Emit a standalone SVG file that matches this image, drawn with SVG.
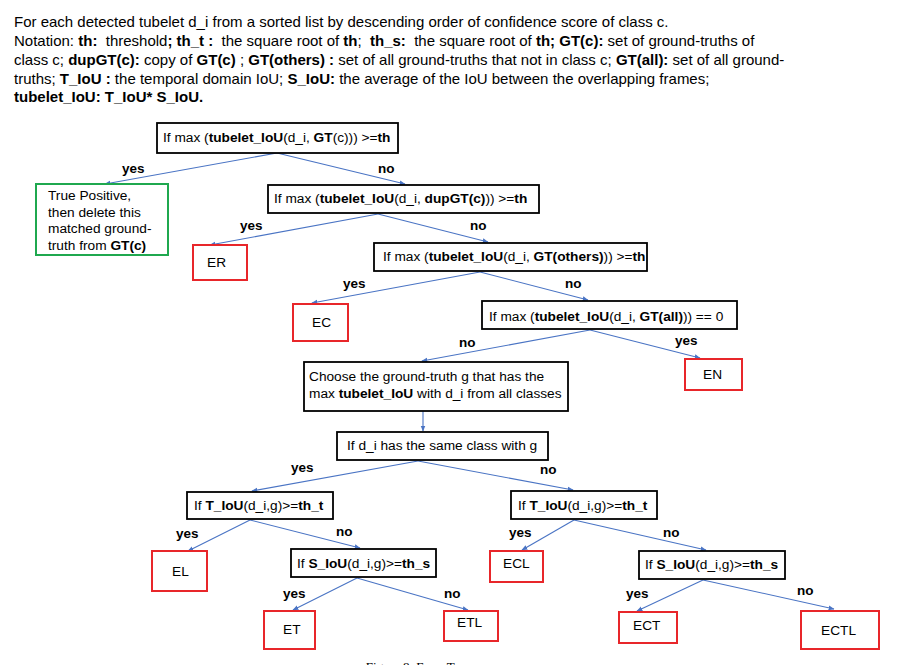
<svg xmlns="http://www.w3.org/2000/svg" width="897" height="665" viewBox="0 0 897 665">
<style>
text{font-family:"Liberation Sans",Arial,sans-serif;fill:#000;}
.hd{font-size:15px;}
.nt{font-size:13.7px;}
.lb{font-size:13.5px;font-weight:bold;}
.b{font-weight:bold;}
.box{fill:#fff;stroke:#000;stroke-width:1.8;}
.red{fill:#fff;stroke:#e8262a;stroke-width:2;}
.grn{fill:#fff;stroke:#1fa84f;stroke-width:2;}
.cn{fill:none;stroke:#4a74c4;stroke-width:1.1;marker-end:url(#ah);}
.cap{font-family:"Liberation Serif","Times New Roman",serif;font-size:13px;}
</style>
<defs>
<marker id="ah" viewBox="0 0 10 10" refX="9" refY="5" markerWidth="6" markerHeight="6" markerUnits="userSpaceOnUse" orient="auto">
<path d="M0,1 L10,5 L0,9 z" fill="#4a74c4"/>
</marker>
</defs>
<rect width="897" height="665" fill="#fff"/>

<g id="header" class="hd">
<text x="14" y="27" xml:space="preserve">For each detected tubelet d_i from a sorted list by descending order of confidence score of class c.</text>
<text x="14" y="46" xml:space="preserve">Notation: <tspan class="b">th:</tspan>  threshold<tspan class="b">; th_t :</tspan>  the square root of <tspan class="b">th</tspan>;  <tspan class="b">th_s:</tspan>  the square root of <tspan class="b">th; GT(c):</tspan> set of ground-truths of</text>
<text x="14" y="65" xml:space="preserve">class c; <tspan class="b">dupGT(c):</tspan> copy of <tspan class="b">GT(c)</tspan> ; <tspan class="b">GT(others) :</tspan> set of all ground-truths that not in class c; <tspan class="b">GT(all):</tspan> set of all ground-</text>
<text x="14" y="83.5" xml:space="preserve">truths; <tspan class="b">T_IoU :</tspan> the temporal domain IoU; <tspan class="b">S_IoU:</tspan> the average of the IoU between the overlapping frames;</text>
<text x="14" y="102" class="b" xml:space="preserve">tubelet_IoU: T_IoU* S_IoU.</text>
</g>

<g id="connectors">
<line class="cn" x1="277" y1="153" x2="105" y2="184"/>
<line class="cn" x1="277" y1="153" x2="405" y2="184"/>
<line class="cn" x1="378" y1="214" x2="210" y2="245"/>
<line class="cn" x1="378" y1="214" x2="488" y2="242"/>
<line class="cn" x1="480" y1="272" x2="312" y2="303"/>
<line class="cn" x1="480" y1="272" x2="588" y2="300"/>
<line class="cn" x1="590" y1="330" x2="422" y2="361"/>
<line class="cn" x1="590" y1="330" x2="700" y2="358"/>
<line class="cn" x1="423" y1="411" x2="423" y2="431"/>
<line class="cn" x1="418" y1="461" x2="252" y2="491"/>
<line class="cn" x1="418" y1="461" x2="573" y2="490"/>
<line class="cn" x1="250" y1="520" x2="188" y2="551"/>
<line class="cn" x1="250" y1="520" x2="360" y2="548"/>
<line class="cn" x1="357" y1="578" x2="293" y2="610"/>
<line class="cn" x1="357" y1="578" x2="468" y2="610"/>
<line class="cn" x1="574" y1="520" x2="522" y2="550"/>
<line class="cn" x1="574" y1="520" x2="706" y2="550"/>
<line class="cn" x1="703" y1="580" x2="637" y2="611"/>
<line class="cn" x1="703" y1="580" x2="834" y2="609"/>
</g>

<g id="edge-labels" class="lb">
<text x="122" y="173">yes</text>
<text x="378" y="173">no</text>
<text x="240" y="230">yes</text>
<text x="470" y="230">no</text>
<text x="343" y="288">yes</text>
<text x="565" y="288">no</text>
<text x="459" y="347">no</text>
<text x="675" y="345">yes</text>
<text x="291" y="472">yes</text>
<text x="540" y="474">no</text>
<text x="176" y="538">yes</text>
<text x="336" y="536">no</text>
<text x="283" y="598">yes</text>
<text x="444" y="598">no</text>
<text x="509" y="537">yes</text>
<text x="663" y="537">no</text>
<text x="626" y="598">yes</text>
<text x="797" y="595">no</text>
</g>

<g id="n-root">
<rect class="box" x="157" y="123" width="241" height="30"/>
<text class="nt" x="163" y="142">If max (<tspan class="b">tubelet_IoU</tspan>(d_i, <tspan class="b">GT</tspan>(c))) &gt;=<tspan class="b">th</tspan></text>
</g>
<g id="n-tp">
<rect class="grn" x="36" y="184" width="132" height="71"/>
<text class="nt" x="48" y="200">True Positive,</text>
<text class="nt" x="48" y="216.5">then delete this</text>
<text class="nt" x="48" y="233">matched ground-</text>
<text class="nt" x="48" y="249.5">truth from <tspan class="b">GT(c)</tspan></text>
</g>
<g id="n-dup">
<rect class="box" x="268" y="185" width="271" height="28"/>
<text class="nt" x="274" y="203">If max (<tspan class="b">tubelet_IoU</tspan>(d_i, <tspan class="b">dupGT(c)</tspan>)) &gt;=<tspan class="b">th</tspan></text>
</g>
<g id="n-er">
<rect class="red" x="193" y="245" width="54" height="35"/>
<text class="nt" x="207" y="267">ER</text>
</g>
<g id="n-others">
<rect class="box" x="374" y="243" width="273" height="28"/>
<text class="nt" x="383" y="261">If max (<tspan class="b">tubelet_IoU</tspan>(d_i, <tspan class="b">GT(others)</tspan>)) &gt;=<tspan class="b">th</tspan></text>
</g>
<g id="n-ec">
<rect class="red" x="293" y="304" width="55" height="37"/>
<text class="nt" x="312" y="327">EC</text>
</g>
<g id="n-all">
<rect class="box" x="482" y="301" width="255" height="28"/>
<text class="nt" x="489" y="321">If max (<tspan class="b">tubelet_IoU</tspan>(d_i, <tspan class="b">GT(all)</tspan>)) == 0</text>
</g>
<g id="n-en">
<rect class="red" x="685" y="359" width="57" height="31"/>
<text class="nt" x="703" y="379">EN</text>
</g>
<g id="n-choose">
<rect class="box" x="304" y="362" width="264" height="49"/>
<text class="nt" x="309" y="381">Choose the ground-truth g that has the</text>
<text class="nt" x="309" y="398">max <tspan class="b">tubelet_IoU</tspan> with d_i from all classes</text>
</g>
<g id="n-same">
<rect class="box" x="337" y="432" width="211" height="28"/>
<text class="nt" x="347" y="450">If d_i has the same class with g</text>
</g>
<g id="n-tiou-l">
<rect class="box" x="187" y="492" width="146" height="27"/>
<text class="nt" x="194" y="510">If <tspan class="b">T_IoU</tspan>(d_i,g)&gt;=<tspan class="b">th_t</tspan></text>
</g>
<g id="n-el">
<rect class="red" x="152" y="551" width="55" height="40"/>
<text class="nt" x="172" y="576">EL</text>
</g>
<g id="n-siou-l">
<rect class="box" x="291" y="549" width="145" height="28"/>
<text class="nt" x="297" y="568">If <tspan class="b">S_IoU</tspan>(d_i,g)&gt;=<tspan class="b">th_s</tspan></text>
</g>
<g id="n-et">
<rect class="red" x="264" y="611" width="51" height="38"/>
<text class="nt" x="283" y="634">ET</text>
</g>
<g id="n-etl">
<rect class="red" x="444" y="611" width="54" height="30"/>
<text class="nt" x="457" y="627">ETL</text>
</g>
<g id="n-tiou-r">
<rect class="box" x="511" y="491" width="146" height="28"/>
<text class="nt" x="518" y="510">If <tspan class="b">T_IoU</tspan>(d_i,g)&gt;=<tspan class="b">th_t</tspan></text>
</g>
<g id="n-ecl">
<rect class="red" x="490" y="551" width="53" height="31"/>
<text class="nt" x="503" y="568">ECL</text>
</g>
<g id="n-siou-r">
<rect class="box" x="639" y="551" width="146" height="28"/>
<text class="nt" x="645" y="569">If <tspan class="b">S_IoU</tspan>(d_i,g)&gt;=<tspan class="b">th_s</tspan></text>
</g>
<g id="n-ect">
<rect class="red" x="619" y="612" width="58" height="31"/>
<text class="nt" x="633" y="630">ECT</text>
</g>
<g id="n-ectl">
<rect class="red" x="801" y="611" width="78" height="38"/>
<text class="nt" x="821" y="635">ECTL</text>
</g>

<text class="cap" x="418" y="671" text-anchor="middle">Figure 8: Error Tree</text>
</svg>
